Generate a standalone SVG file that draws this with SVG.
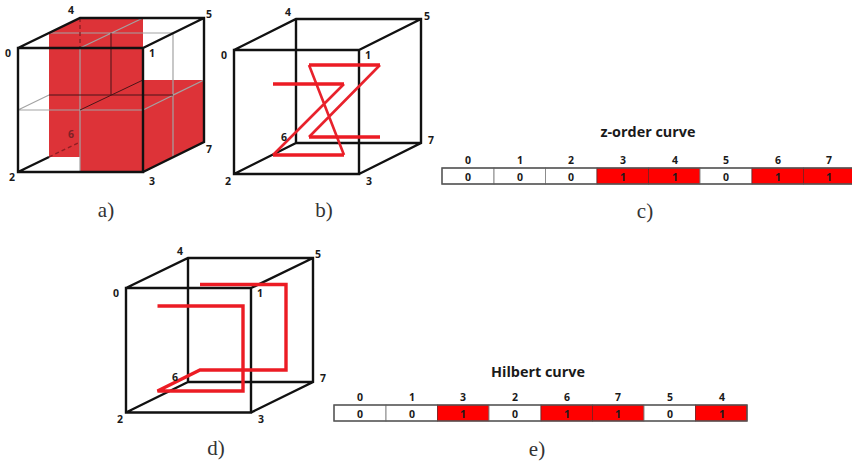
<svg xmlns="http://www.w3.org/2000/svg" width="852" height="461" viewBox="0 0 852 461">
<style>
.n{font-family:"Open Sans","Noto Sans","DejaVu Sans",sans-serif;font-weight:700;font-size:10.5px;fill:#1a1a1a;text-anchor:middle;dominant-baseline:central}
.t{font-family:"Open Sans","Noto Sans","DejaVu Sans",sans-serif;font-weight:700;font-size:14.4px;fill:#1a1a1a;text-anchor:middle;dominant-baseline:central}
.c{font-family:"Liberation Serif","DejaVu Serif",serif;font-size:21px;fill:#333;text-anchor:middle}
.e{fill:none;stroke:#111;stroke-width:2.4;stroke-linejoin:miter}
.g{fill:none;stroke:#a3a3a3;stroke-width:1.2}
.d{fill:none;stroke:#4a1518;stroke-width:1}
.h{fill:none;stroke:#8f1f24;stroke-width:1.4;stroke-dasharray:4 3}
.r{fill:none;stroke:#e8222c;stroke-width:2.6;stroke-linejoin:miter}
.k{stroke:#ec1c24;stroke-width:3.4;fill:none}
.o{fill:#fff;stroke:#8c8c8c;stroke-width:1}
.f{fill:#ff0000;stroke:#7a2020;stroke-width:.8}
.box{fill:none;stroke:#555;stroke-width:1.4}
</style>
<g id="cube-a">
<path fill="#dd3338" d="M49 33L80 18H143V172H80V157H49Z"/>
<path fill="#dd3338" d="M143 80H204V142L143 172Z"/>
<path class="g" d="M80 48V172M18 110H143M18 110L49 95M49 33H173M80 48L143 18M173 33V157M143 110L204 80M173 95L204 80"/>
<path class="d" d="M49 95H173M80 110L143 80M111 33V95"/>
<path class="h" d="M80 18V48M49 157L80 142"/>
<path class="e" d="M18 48H143V172H18ZM18 48L80 18H204V142L143 172M143 48L204 18M18 172L49 157"/>
<text class="n" x="71" y="10">4</text><text class="n" x="209" y="14">5</text><text class="n" x="8" y="53">0</text><text class="n" x="152" y="53">1</text><text class="n" x="12" y="177">2</text><text class="n" x="152" y="181">3</text><text class="n" x="209" y="149">7</text><text class="n" x="71" y="134" style="fill:#7d2226">6</text>
<text class="c" x="106" y="217">a)</text>
</g>
<g id="cube-b">
<path class="e" d="M234 50H359V174H234ZM234 50L296 19H421V143L359 174M359 50L421 19M296 19V143H421M296 143L234 174"/>
<path class="r" d="M344 84L273 155M344 155L309 65M380 65L309 137"/>
<path class="k" d="M273 84H344M273 155H344M309 65H380M309 137H380"/>
<text class="n" x="288" y="12">4</text><text class="n" x="427" y="16">5</text><text class="n" x="224" y="55">0</text><text class="n" x="368" y="55">1</text><text class="n" x="228" y="181">2</text><text class="n" x="369" y="181">3</text><text class="n" x="431" y="140">7</text><text class="n" x="284" y="137">6</text>
<text class="c" x="324" y="217">b)</text>
</g>
<g id="cube-d">
<path class="e" d="M126 288H251V412.5H126ZM126 288L188 258H313V382L251 412.5M251 288L313 258M188 258V382H313M188 382L126 412.5"/>
<path class="k" d="M157.500 306H243V391H157.500L200 370H286V284.500H200"/>
<text class="n" x="180" y="251">4</text><text class="n" x="318" y="254">5</text><text class="n" x="116" y="293">0</text><text class="n" x="260" y="293">1</text><text class="n" x="120" y="419">2</text><text class="n" x="261" y="419">3</text><text class="n" x="323" y="378">7</text><text class="n" x="175" y="377">6</text>
<text class="c" x="216" y="455">d)</text>
</g>
<g id="table-c">
<text class="t" x="648" y="131">z-order curve</text>
<text class="n" x="468" y="160">0</text><text class="n" x="520" y="160">1</text><text class="n" x="571" y="160">2</text><text class="n" x="623" y="160">3</text><text class="n" x="675" y="160">4</text><text class="n" x="726" y="160">5</text><text class="n" x="778" y="160">6</text><text class="n" x="829" y="160">7</text>
<rect class="o" x="442" y="168" width="52" height="16"/><rect class="o" x="494" y="168" width="51.500" height="16"/><rect class="o" x="545.500" y="168" width="51.500" height="16"/><rect class="f" x="597" y="168" width="51.500" height="16"/><rect class="f" x="648.500" y="168" width="51.500" height="16"/><rect class="o" x="700" y="168" width="52" height="16"/><rect class="f" x="752" y="168" width="51.500" height="16"/><rect class="f" x="803.500" y="168" width="49" height="16"/>
<path class="box" d="M852 168H442V184H852"/>
<text class="n" x="468" y="176.500">0</text><text class="n" x="520" y="176.500">0</text><text class="n" x="571" y="176.500">0</text><text class="n" x="623" y="176.500">1</text><text class="n" x="675" y="176.500">1</text><text class="n" x="726" y="176.500">0</text><text class="n" x="778" y="176.500">1</text><text class="n" x="829" y="176.500">1</text>
<text class="c" x="645" y="218">c)</text>
</g>
<g id="table-e">
<text class="t" x="538" y="371">Hilbert curve</text>
<text class="n" x="360" y="397">0</text><text class="n" x="412" y="397">1</text><text class="n" x="463" y="397">3</text><text class="n" x="515" y="397">2</text><text class="n" x="567" y="397">6</text><text class="n" x="618" y="397">7</text><text class="n" x="670" y="397">5</text><text class="n" x="722" y="397">4</text>
<rect class="o" x="334" y="405" width="52" height="16"/><rect class="o" x="386" y="405" width="51.500" height="16"/><rect class="f" x="437.500" y="405" width="51.500" height="16"/><rect class="o" x="489" y="405" width="52" height="16"/><rect class="f" x="541" y="405" width="51.500" height="16"/><rect class="f" x="592.500" y="405" width="51.500" height="16"/><rect class="o" x="644" y="405" width="51.500" height="16"/><rect class="f" x="695.500" y="405" width="51.500" height="16"/>
<rect class="box" x="334" y="405" width="413" height="16"/>
<text class="n" x="360" y="413.500">0</text><text class="n" x="412" y="413.500">0</text><text class="n" x="463" y="413.500">1</text><text class="n" x="515" y="413.500">0</text><text class="n" x="567" y="413.500">1</text><text class="n" x="618" y="413.500">1</text><text class="n" x="670" y="413.500">0</text><text class="n" x="722" y="413.500">1</text>
<text class="c" x="537" y="456">e)</text>
</g>
</svg>
